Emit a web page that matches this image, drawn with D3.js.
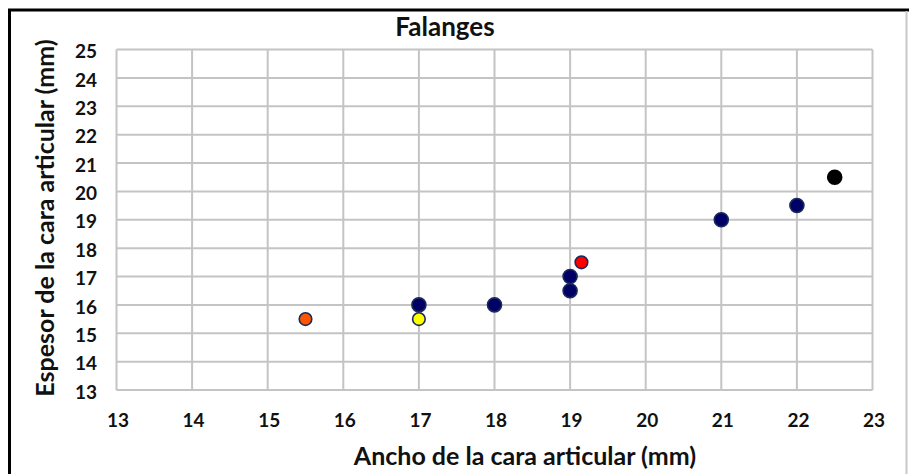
<!DOCTYPE html>
<html><head><meta charset="utf-8">
<script src="https://cdn.jsdelivr.net/npm/d3@7"></script>
<style>
html,body{margin:0;padding:0;background:#fff;}
svg{display:block;}
text{font-family:Lato,"Open Sans",sans-serif;font-weight:bold;fill:#111;}
</style></head><body>
<script>
const chartTitle = "Falanges";
const xTitle = "Ancho de la cara articular (mm)";
const yTitle = "Espesor de la cara  articular (mm)";
const xTicks = [13,14,15,16,17,18,19,20,21,22,23];
const yTicks = [13,14,15,16,17,18,19,20,21,22,23,24,25];
const anchoValues = [15.5, 17, 17, 18, 19, 19, 19.15, 21, 22, 22.5];
const espesorValues = [15.5, 16, 15.5, 16, 16.5, 17, 17.5, 19, 19.5, 20.5];
const pointColors = ["#ff5500", "#000066", "#ffff00", "#000066", "#000066", "#000066", "#ff0000", "#000066", "#000066", "#000000"];

const W = 909, H = 474;
const svg = d3.select("body").append("svg").attr("width", W).attr("height", H);

// outer frame
svg.append("line").attr("x1", 8).attr("x2", 909).attr("y1", 10).attr("y2", 10).attr("stroke", "#000").attr("stroke-width", 3);
svg.append("line").attr("x1", 9.5).attr("x2", 9.5).attr("y1", 9).attr("y2", 474).attr("stroke", "#000").attr("stroke-width", 3);
svg.append("line").attr("x1", 906.5).attr("x2", 906.5).attr("y1", 11).attr("y2", 474).attr("stroke", "#c8c8c8").attr("stroke-width", 2);

const x = d3.scaleLinear().domain([13, 23]).range([116.5, 872.5]);
const y = d3.scaleLinear().domain([13, 25]).range([390, 49.5]);

// gridlines
const g = svg.append("g");
g.selectAll(".vg").data(xTicks).join("line")
  .attr("x1", d => x(d)).attr("x2", d => x(d)).attr("y1", y(25)).attr("y2", y(13))
  .attr("stroke", "#c4c4c4").attr("stroke-width", 2);
g.selectAll(".hg").data(yTicks).join("line")
  .attr("x1", x(13)).attr("x2", x(23)).attr("y1", d => y(d)).attr("y2", d => y(d))
  .attr("stroke", "#c4c4c4").attr("stroke-width", 2);

const tickFont = 'Lato,"Open Sans",sans-serif';
// axes (labels only)
const xAxis = d3.axisBottom(x).tickValues(xTicks).tickSize(0).tickPadding(0).tickFormat(d3.format("d"));
const xa = svg.append("g").attr("transform", `translate(1,${y(13) + 30})`).call(xAxis);
xa.select(".domain").remove();
xa.selectAll("text").attr("font-size", 19).attr("dy", "0.35em").attr("fill", "#111")
  .style("font-family", tickFont).style("font-weight", "bold");

const yAxis = d3.axisLeft(y).tickValues(yTicks).tickSize(0).tickPadding(0).tickFormat(d3.format("d"));
const ya = svg.append("g").attr("transform", `translate(97,1.5)`).call(yAxis);
ya.select(".domain").remove();
ya.selectAll("text").attr("font-size", 19).attr("dy", "0.35em").attr("fill", "#111")
  .style("font-family", tickFont).style("font-weight", "bold");

// points
const pts = anchoValues.map((v, i) => ({ x: v, y: espesorValues[i], c: pointColors[i] }));
svg.selectAll(".pt").data(pts).join("circle")
  .attr("cx", d => x(d.x)).attr("cy", d => y(d.y))
  .attr("r", d => d.c === "#000066" || d.c === "#000000" ? 7 : 6.3)
  .attr("fill", d => d.c)
  .attr("stroke", d => d.c === "#000000" ? "#000" : "#1a2a5a")
  .attr("stroke-width", 1.6);

// titles
svg.append("text").attr("x", 445).attr("y", 36).attr("text-anchor", "middle").attr("font-size", 26).text(chartTitle);
svg.append("text").attr("x", 525).attr("y", 465).attr("text-anchor", "middle").attr("font-size", 25).text(xTitle);
svg.append("text").attr("transform", "translate(54,218) rotate(-90)").attr("text-anchor", "middle").attr("font-size", 25).text(yTitle);
</script>
</body></html>
